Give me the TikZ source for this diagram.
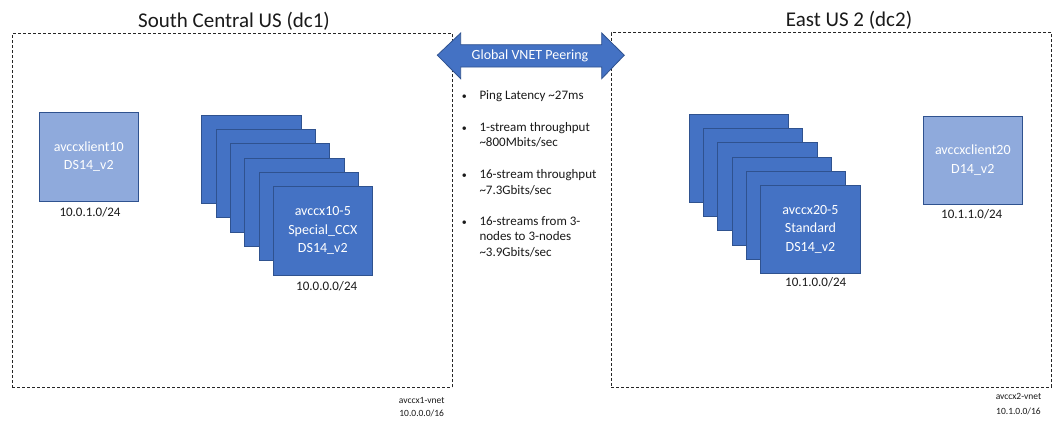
\documentclass[tikz,border=0pt]{standalone}
\usepackage{fontspec}
\setmainfont{Carlito}
\definecolor{vmblue}{HTML}{4472C4}
\definecolor{vmline}{HTML}{2F528F}
\definecolor{clientblue}{HTML}{8FAADC}
\definecolor{txt}{HTML}{1A1A1A}
\begin{document}
\begin{tikzpicture}[x=1pt,y=-1pt,
  region/.style={draw=black!85, dash pattern=on 3pt off 2pt, line width=0.8pt, inner sep=0pt, outer sep=0pt},
  vmbox/.style={draw=vmline, fill=vmblue, line width=1pt, minimum width=99.5pt, minimum height=88.5pt,
    inner sep=0pt, outer sep=0pt, text=white, align=center, font=\fontsize{14}{18.5}\selectfont},
  clientbox/.style={vmbox, fill=clientblue},
  title/.style={anchor=base, inner sep=0pt, text=txt, font=\fontsize{21}{25}\selectfont},
  subnet/.style={anchor=base, inner sep=0pt, text=txt, font=\fontsize{13}{15}\selectfont},
  vnetlbl/.style={anchor=base, inner sep=0pt, text=txt, font=\fontsize{9.5}{11}\selectfont},
  bline/.style={anchor=base west, inner sep=0pt, text=txt, font=\fontsize{13}{15.3}\selectfont},
  bdot/.style={anchor=base, inner sep=0pt, text=txt, font=\fontsize{10}{12}\selectfont}
]
\useasboundingbox (0,0) rectangle (1064,421);
\fill[white] (0,0) rectangle (1064,421);

% regions
\node[region, minimum width=439.9pt, minimum height=353.8pt] (dc1) at (232.25,210.6) {};
\node[region, minimum width=440.4pt, minimum height=354.2pt] (dc2) at (831.5,209.9) {};
\node[title] (t1) at (234,27) {South Central US (dc1)};
\node[title] (t2) at (849,26.5) {East US 2 (dc2)};

% left client
\node[clientbox, minimum width=99pt, minimum height=89pt] (c10) at (88.8,156.8) {avccxlient10\\DS14\_v2};
\node[subnet] (c10n) at (90,216.5) {10.0.1.0/24};

% left stack
\node[vmbox] (l1) at (251.4,159.3) {};
\node[vmbox] (l2) at (266,173.3) {};
\node[vmbox] (l3) at (280,187.8) {};
\node[vmbox] (l4) at (294.3,202.5) {};
\node[vmbox] (l5) at (309,216.3) {};
\node[vmbox] (l6) at (322.8,230.8) {avccx10-5\\Special\_CCX\\DS14\_v2};
\node[subnet] (l6n) at (326.7,290.5) {10.0.0.0/24};

% right stack
\node[vmbox] (r1) at (738.9,158.3) {};
\node[vmbox] (r2) at (753,172.3) {};
\node[vmbox] (r3) at (767.5,186.3) {};
\node[vmbox] (r4) at (782,201.3) {};
\node[vmbox] (r5) at (796,215.3) {};
\node[vmbox] (r6) at (810.5,229.3) {avccx20-5\\Standard\\DS14\_v2};
\node[subnet] (r6n) at (815.7,286.8) {10.1.0.0/24};

% right client
\node[clientbox, minimum width=99pt, minimum height=88pt] (c20) at (972.8,160.3) {avccxclient20\\D14\_v2};
\node[subnet] (c20n) at (971.7,218.8) {10.1.1.0/24};

% peering arrow
\fill[vmblue, draw=vmline, line width=0.8pt]
  (437.3,55.2) -- (460.7,33) -- (460.7,44.7) -- (601.7,44.7) -- (601.7,33) -- (624.3,55.2)
  -- (601.7,78.7) -- (601.7,67) -- (460.7,67) -- (460.7,78.7) -- cycle;
\node[inner sep=0pt, text=white, font=\fontsize{14}{16}\selectfont] (peer) at (530,55.8) {Global VNET Peering};

% bullets
\node[bdot] (b1) at (464.3,99) {•};
\node[bline] (b1a) at (479.3,99) {Ping Latency \textasciitilde27ms};
\node[bdot] (b2) at (464.3,131.3) {•};
\node[bline] (b2a) at (479.3,131.3) {1-stream throughput};
\node[bline] (b2b) at (479.3,146.7) {\textasciitilde800Mbits/sec};
\node[bdot] (b3) at (464.3,178) {•};
\node[bline] (b3a) at (479.3,178) {16-stream throughput};
\node[bline] (b3b) at (479.3,194) {\textasciitilde7.3Gbits/sec};
\node[bdot] (b4) at (464.3,225.7) {•};
\node[bline] (b4a) at (479.3,225.7) {16-streams from 3-};
\node[bline] (b4b) at (479.3,240.7) {nodes to 3-nodes};
\node[bline] (b4c) at (479.3,256.3) {\textasciitilde3.9Gbits/sec};

% vnet labels
\node[vnetlbl] (v1a) at (421.7,403) {avccx1-vnet};
\node[vnetlbl] (v1b) at (421.7,416.5) {10.0.0.0/16};
\node[vnetlbl] (v2a) at (1018.5,399) {avccx2-vnet};
\node[vnetlbl] (v2b) at (1018.5,414) {10.1.0.0/16};
\end{tikzpicture}
\end{document}
